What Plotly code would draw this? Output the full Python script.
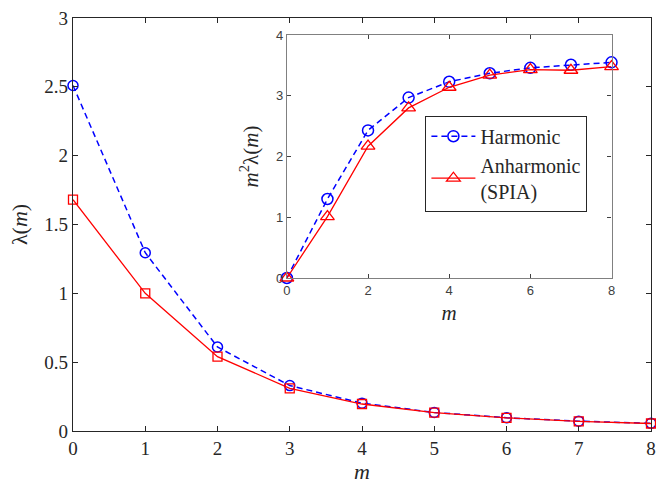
import plotly.graph_objects as go

m = [0, 1, 2, 3, 4, 5, 6, 7, 8]
lam_harm = [2.51, 1.295, 0.61, 0.33, 0.202, 0.135, 0.096, 0.0715, 0.0555]
lam_anh = [1.68, 1.0, 0.54, 0.31, 0.196, 0.1335, 0.0953, 0.0698, 0.0544]
m2lam_harm = [0.0, 1.30, 2.43, 2.97, 3.23, 3.37, 3.46, 3.51, 3.55]
m2lam_anh = [0.0, 1.01, 2.17, 2.80, 3.14, 3.34, 3.43, 3.42, 3.48]
main_xticks = [0, 1, 2, 3, 4, 5, 6, 7, 8]
main_yticks = [0, 0.5, 1, 1.5, 2, 2.5, 3]
main_ytick_text = ["0", "0.5", "1", "1.5", "2", "2.5", "3"]
inset_xticks = [0, 2, 4, 6, 8]
inset_yticks = [0, 1, 2, 3, 4]

BLUE = "#0000ff"
RED = "#ff0000"
SERIF = "Liberation Serif"
SANS = "Liberation Sans"
INK = "#262626"

fig = go.Figure()

fig.add_trace(go.Scatter(
    x=m, y=lam_harm, mode="lines+markers", showlegend=False, cliponaxis=False,
    line=dict(color=BLUE, width=1.5, dash="6px,4px"),
    marker=dict(symbol="circle-open", size=10, color=BLUE, line=dict(width=1.5)),
    xaxis="x", yaxis="y"))
fig.add_trace(go.Scatter(
    x=m, y=lam_anh, mode="lines+markers", showlegend=False, cliponaxis=False,
    line=dict(color=RED, width=1.3),
    marker=dict(symbol="square-open", size=9, color=RED, line=dict(width=1.3)),
    xaxis="x", yaxis="y"))

fig.add_trace(go.Scatter(
    x=m, y=m2lam_harm, mode="lines+markers", name="Harmonic", cliponaxis=False,
    line=dict(color=BLUE, width=1.5, dash="6px,4px"),
    marker=dict(symbol="circle-open", size=11, color=BLUE, line=dict(width=1.5)),
    xaxis="x2", yaxis="y2"))
fig.add_trace(go.Scatter(
    x=m, y=m2lam_anh, mode="lines+markers", name="Anharmonic<br>(SPIA)", cliponaxis=False,
    line=dict(color=RED, width=1.3),
    marker=dict(symbol="triangle-up-open", size=12, color=RED, line=dict(width=1.3)),
    xaxis="x2", yaxis="y2"))

axis_main = dict(showline=True, linecolor=INK, linewidth=1.2, mirror="ticks",
                 ticks="inside", ticklen=5, tickcolor=INK, showgrid=False,
                 zeroline=False, automargin=False, ticklabeloverflow="allow",
                 tickfont=dict(family=SERIF, size=19, color=INK))
axis_in = dict(showline=True, linecolor="#808080", linewidth=1.2, mirror="ticks",
               ticks="inside", ticklen=4, tickcolor="#404040", showgrid=False,
               zeroline=False, automargin=False, ticklabeloverflow="allow",
               tickfont=dict(family=SANS, size=13, color="#404040"))

fig.update_layout(
    width=656, height=487,
    margin=dict(l=73, r=4.5, t=18, b=56, autoexpand=False),
    paper_bgcolor="white", plot_bgcolor="white",
    xaxis=dict(axis_main, range=[0, 8], tickvals=main_xticks, domain=[0, 1],
               title=dict(text="<i>m</i>", font=dict(family=SERIF, size=22, color=INK), standoff=4)),
    yaxis=dict(axis_main, range=[0, 3], tickvals=main_yticks, ticktext=main_ytick_text, domain=[0, 1],
               title=dict(text="λ(<i>m</i>)", font=dict(family=SERIF, size=22, color=INK), standoff=10)),
    xaxis2=dict(axis_in, range=[0, 8], tickvals=inset_xticks, domain=[0.370, 0.9317], anchor="y2",
                title=dict(text="<i>m</i>", font=dict(family=SERIF, size=21, color=INK), standoff=8)),
    yaxis2=dict(axis_in, range=[0, 4], tickvals=inset_yticks, domain=[0.3705, 0.9588], anchor="x2",
                title=dict(text="<i>m</i><sup>2</sup>λ(<i>m</i>)", font=dict(family=SERIF, size=21, color=INK), standoff=11)),
    legend=dict(x=0.6097, y=0.7634, xanchor="left", yanchor="top",
                bgcolor="white", bordercolor=INK, borderwidth=1,
                font=dict(family=SERIF, size=20, color=INK),
                tracegroupgap=0, itemwidth=44),
)

fig.write_html("out.html", config={"displayModeBar": False},
               post_script="document.body.style.margin='0';")
